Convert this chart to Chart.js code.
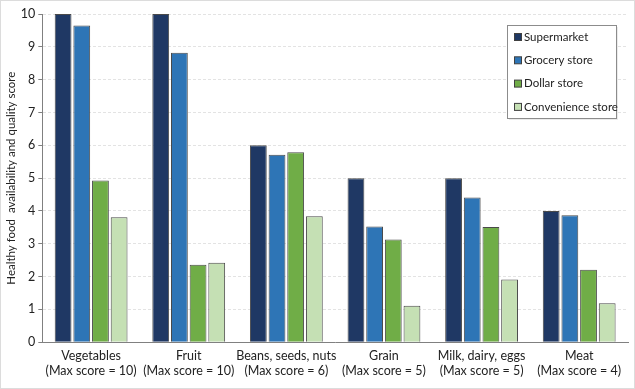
<!DOCTYPE html>
<html>
<head>
<meta charset="utf-8">
<script src="https://cdn.jsdelivr.net/npm/chart.js@4/dist/chart.umd.min.js"></script>
<style>
html,body{margin:0;padding:0;background:#fff;}
#wrap{position:relative;width:633px;height:387px;border:1px solid #dcdcdc;}
</style>
</head>
<body>
<div id="wrap"><canvas id="c" width="633" height="387"></canvas></div>
<script>
const categories = [
  ["Vegetables", "(Max score = 10)"],
  ["Fruit", "(Max score = 10)"],
  ["Beans, seeds, nuts", "(Max score = 6)"],
  ["Grain", "(Max score = 5)"],
  ["Milk, dairy, eggs", "(Max score = 5)"],
  ["Meat", "(Max score = 4)"]
];
const seriesNames = ["Supermarket", "Grocery store", "Dollar store", "Convenience store"];
const supermarket = [10, 10, 6, 5, 5, 4];
const grocery = [9.65, 8.82, 5.71, 3.53, 4.41, 3.87];
const dollar = [4.93, 2.36, 5.79, 3.13, 3.51, 2.21];
const convenience = [3.81, 2.42, 3.84, 1.11, 1.91, 1.19];
const yTicks = [0, 1, 2, 3, 4, 5, 6, 7, 8, 9, 10];
const colors = ["#1F3864", "#2E75B6", "#70AD47", "#C5E0B4"];

const FONT = "Lato, 'Noto Sans', sans-serif";

const legendBox = {
  id: 'legendBox',
  afterDraw(chart) {
    const ctx = chart.ctx;
    const x = 506.5, y = 24.5, w = 109, h = 93;
    ctx.save();
    ctx.fillStyle = 'rgba(0,0,0,0.08)';
    ctx.fillRect(x + 1.5, y + 1.5, w, h);
    ctx.fillStyle = '#fff';
    ctx.fillRect(x, y, w, h);
    ctx.strokeStyle = '#8c8c8c';
    ctx.lineWidth = 1;
    ctx.strokeRect(x, y, w, h);
    ctx.font = "11.5px " + FONT;
    ctx.textBaseline = 'middle';
    chart.data.datasets.forEach((ds, i) => {
      const cy = 36 + i * 23.3;
      ctx.fillStyle = ds.backgroundColor;
      ctx.fillRect(513.5, cy - 3.5, 7, 7);
      ctx.strokeStyle = '#404040';
      ctx.strokeRect(513.5, cy - 3.5, 7, 7);
      ctx.fillStyle = '#222';
      ctx.fillText(ds.label, 523, cy);
    });
    ctx.restore();
  }
};

new Chart(document.getElementById('c'), {
  type: 'bar',
  data: {
    labels: categories,
    datasets: [
      { label: seriesNames[0], data: supermarket, backgroundColor: colors[0] },
      { label: seriesNames[1], data: grocery, backgroundColor: colors[1] },
      { label: seriesNames[2], data: dollar, backgroundColor: colors[2] },
      { label: seriesNames[3], data: convenience, backgroundColor: colors[3] }
    ].map(d => Object.assign(d, {
      borderColor: '#4a4a4a', borderWidth: 1,
      categoryPercentage: 0.765, barPercentage: 0.9
    }))
  },
  options: {
    responsive: false,
    animation: false,
    devicePixelRatio: 1,
    layout: { padding: { top: 13, right: 6, bottom: 3, left: 3 } },
    plugins: { legend: { display: false }, tooltip: { enabled: false } },
    scales: {
      x: {
        grid: { display: false, drawTicks: false },
        border: { color: '#808080', width: 1 },
        ticks: { color: '#222', font: { family: FONT, size: 12.5, lineHeight: 1.15 }, padding: 7, maxRotation: 0, autoSkip: false }
      },
      y: {
        min: 0, max: 10,
        afterBuildTicks: (s) => { s.ticks = yTicks.map(v => ({ value: v })); },
        grid: { color: '#e3e3e3', tickColor: '#808080', tickLength: 4, tickBorderDash: [] },
        border: { color: '#808080', width: 1, dash: [3, 2] },
        ticks: { color: '#222', font: { family: FONT, size: 12.5 }, padding: 3 },
        title: { display: true, text: 'Healthy food  availability and quality score', color: '#222', font: { family: FONT, size: 11.5 }, padding: { top: 0, bottom: 0 } }
      }
    }
  },
  plugins: [legendBox]
});
</script>
</body>
</html>
